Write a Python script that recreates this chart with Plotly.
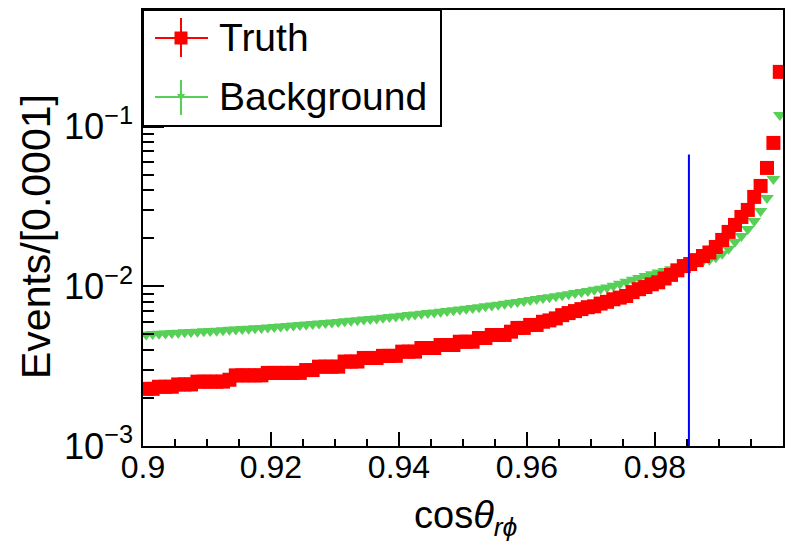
import numpy as np
import plotly.graph_objects as go

# Binning of cos(theta_r_phi)
BIN_LO, BIN_HI, N_BINS = 0.9, 1.0, 100
edges = np.linspace(BIN_LO, BIN_HI, N_BINS + 1)
centers = 0.5 * (edges[:-1] + edges[1:])

# Normalised event fractions per bin
truth = [
    0.00228, 0.00228, 0.00235, 0.00235, 0.00235,
    0.00243, 0.00243, 0.00243, 0.00253, 0.00253,
    0.00253, 0.00253, 0.00253, 0.00260, 0.00277,
    0.00277, 0.00277, 0.00277, 0.00277, 0.00287,
    0.00287, 0.00287, 0.00287, 0.00287, 0.00287,
    0.00299, 0.00299, 0.00314, 0.00314, 0.00314,
    0.00314, 0.00338, 0.00338, 0.00338, 0.00356,
    0.00356, 0.00356, 0.00367, 0.00367, 0.00367,
    0.00390, 0.00390, 0.00390, 0.00411, 0.00411,
    0.00411, 0.00429, 0.00429, 0.00429, 0.00450,
    0.00450, 0.00450, 0.00475, 0.00475, 0.00496,
    0.00496, 0.00496, 0.00520, 0.00549, 0.00549,
    0.00573, 0.00573, 0.00600, 0.00612, 0.00630,
    0.00660, 0.00680, 0.00700, 0.00720, 0.00740,
    0.00750, 0.00780, 0.00800, 0.00830, 0.00850,
    0.00870, 0.00920, 0.00960, 0.00990, 0.01030,
    0.01060, 0.01120, 0.01180, 0.01260, 0.01340,
    0.01380, 0.01460, 0.01550, 0.01630, 0.01765,
    0.01953, 0.02193, 0.02424, 0.02721, 0.03011,
    0.03633, 0.04256, 0.05518, 0.07914, 0.22050,
]

background = [
    0.00500, 0.00503, 0.00505, 0.00507, 0.00510,
    0.00512, 0.00515, 0.00518, 0.00520, 0.00523,
    0.00526, 0.00528, 0.00531, 0.00534, 0.00537,
    0.00540, 0.00543, 0.00546, 0.00549, 0.00553,
    0.00557, 0.00561, 0.00565, 0.00569, 0.00573,
    0.00577, 0.00581, 0.00585, 0.00590, 0.00594,
    0.00599, 0.00604, 0.00609, 0.00614, 0.00619,
    0.00624, 0.00630, 0.00636, 0.00642, 0.00648,
    0.00655, 0.00661, 0.00667, 0.00673, 0.00680,
    0.00687, 0.00694, 0.00701, 0.00709, 0.00717,
    0.00725, 0.00733, 0.00741, 0.00750, 0.00759,
    0.00768, 0.00778, 0.00788, 0.00798, 0.00809,
    0.00820, 0.00832, 0.00844, 0.00856, 0.00868,
    0.00880, 0.00893, 0.00907, 0.00921, 0.00936,
    0.00951, 0.00967, 0.00984, 0.01010, 0.01040,
    0.01070, 0.01100, 0.01130, 0.01160, 0.01190,
    0.01220, 0.01250, 0.01280, 0.01310, 0.01350,
    0.01380, 0.01410, 0.01440, 0.01470, 0.01520,
    0.01600, 0.01720, 0.01900, 0.02070, 0.02290,
    0.02570, 0.02970, 0.03580, 0.04710, 0.11860,
]

# Selection cut drawn as a vertical line
CUT_X = 0.9853
CUT_TOP = 0.067

x_tick_vals = [0.9, 0.92, 0.94, 0.96, 0.98, 1.0]
x_tick_text = ["0.9", "0.92", "0.94", "0.96", "0.98", "1"]

Y_MIN_LOG, Y_MAX_LOG = -3.0, -0.269

FONT = "Liberation Sans, Arial, Helvetica, sans-serif"
RED = "#ff0000"
GREEN = "#57d057"
BLUE = "#0000ff"

fig = go.Figure()

fig.add_trace(go.Scatter(
    x=centers, y=background, mode="markers", name="Background",
    marker=dict(symbol="triangle-down", size=12, color=GREEN, line=dict(width=0)),
    cliponaxis=True, showlegend=False,
))
fig.add_trace(go.Scatter(
    x=centers, y=truth, mode="markers", name="Truth",
    marker=dict(symbol="square", size=14, color=RED, line=dict(width=0)),
    cliponaxis=True, showlegend=False,
))
fig.add_trace(go.Scatter(
    x=[CUT_X, CUT_X], y=[10 ** Y_MIN_LOG, CUT_TOP], mode="lines",
    line=dict(color=BLUE, width=2), showlegend=False, hoverinfo="skip",
))

axis_common = dict(
    showline=True, linecolor="black", linewidth=2, mirror=True,
    ticks="inside", tickcolor="black", tickwidth=2,
    showgrid=False, zeroline=False, automargin=False,
)

fig.update_xaxes(
    range=[BIN_LO, BIN_HI], tickmode="array",
    tickvals=x_tick_vals, ticktext=x_tick_text, ticklen=14,
    ticklabelstandoff=-8,
    tickfont=dict(family=FONT, size=32, color="black"),
    minor=dict(ticks="inside", ticklen=7, tickwidth=2, tickcolor="black",
               tickmode="linear", tick0=BIN_LO, dtick=0.005, showgrid=False),
    **axis_common,
)
fig.update_yaxes(
    type="log", range=[Y_MIN_LOG, Y_MAX_LOG], dtick=1,
    exponentformat="power", ticklen=21, ticklabelstandoff=2,
    tickfont=dict(family=FONT, size=29, color="black"),
    minor=dict(ticks="inside", ticklen=11, tickwidth=2, tickcolor="black",
               dtick="D1", showgrid=False),
    **axis_common,
)

# Plot area: 640 x 436 px
PW, PH = 640.0, 436.0
L, T = 143.0, 10.0


def px(xp):
    return (xp - L) / PW


def py(yp):
    return (T + PH - yp) / PH


shapes = []
# legend frame
shapes.append(dict(type="rect", xref="paper", yref="paper",
                   x0=px(143), x1=px(441), y0=py(126), y1=py(10),
                   line=dict(color="black", width=2), fillcolor="white", layer="above"))
# Truth entry: cross and square
shapes.append(dict(type="line", xref="paper", yref="paper", x0=px(155), x1=px(208),
                   y0=py(38), y1=py(38), line=dict(color=RED, width=2), layer="above"))
shapes.append(dict(type="line", xref="paper", yref="paper", x0=px(181), x1=px(181),
                   y0=py(18), y1=py(57), line=dict(color=RED, width=2), layer="above"))
shapes.append(dict(type="rect", xref="paper", yref="paper", x0=px(174.5), x1=px(187.5),
                   y0=py(44.5), y1=py(31.5), line=dict(width=0), fillcolor=RED, layer="above"))
# Background entry: cross and triangle
shapes.append(dict(type="line", xref="paper", yref="paper", x0=px(155), x1=px(208),
                   y0=py(97), y1=py(97), line=dict(color=GREEN, width=2), layer="above"))
shapes.append(dict(type="line", xref="paper", yref="paper", x0=px(181), x1=px(181),
                   y0=py(80), y1=py(115), line=dict(color=GREEN, width=2), layer="above"))
tri = "M {:.5f},{:.5f} L {:.5f},{:.5f} L {:.5f},{:.5f} Z".format(
    px(177), py(94), px(185), py(94), px(181), py(101))
shapes.append(dict(type="path", xref="paper", yref="paper", path=tri,
                   line=dict(width=0), fillcolor=GREEN, layer="above"))

annotations = [
    dict(text="Truth", xref="paper", yref="paper", x=px(217), y=py(38),
         xanchor="left", yanchor="middle", showarrow=False,
         font=dict(family=FONT, size=39, color="black")),
    dict(text="Background", xref="paper", yref="paper", x=px(217), y=py(97),
         xanchor="left", yanchor="middle", showarrow=False,
         font=dict(family=FONT, size=39, color="black")),
    dict(text="cos<i>θ</i><sub><i>rϕ</i></sub>", xref="paper", yref="paper",
         x=px(465), y=py(518), xanchor="center", yanchor="middle", showarrow=False,
         font=dict(family=FONT, size=38, color="black")),
    dict(text="Events/[0.0001]", xref="paper", yref="paper", textangle=-90,
         x=px(36), y=py(237), xanchor="center", yanchor="middle", showarrow=False,
         font=dict(family=FONT, size=41, color="black")),
]

fig.update_layout(
    width=787, height=542,
    margin=dict(l=143, r=4, t=10, b=96, pad=0),
    paper_bgcolor="white", plot_bgcolor="white",
    shapes=shapes, annotations=annotations,
    showlegend=False,
)

fig.write_html("out.html")
